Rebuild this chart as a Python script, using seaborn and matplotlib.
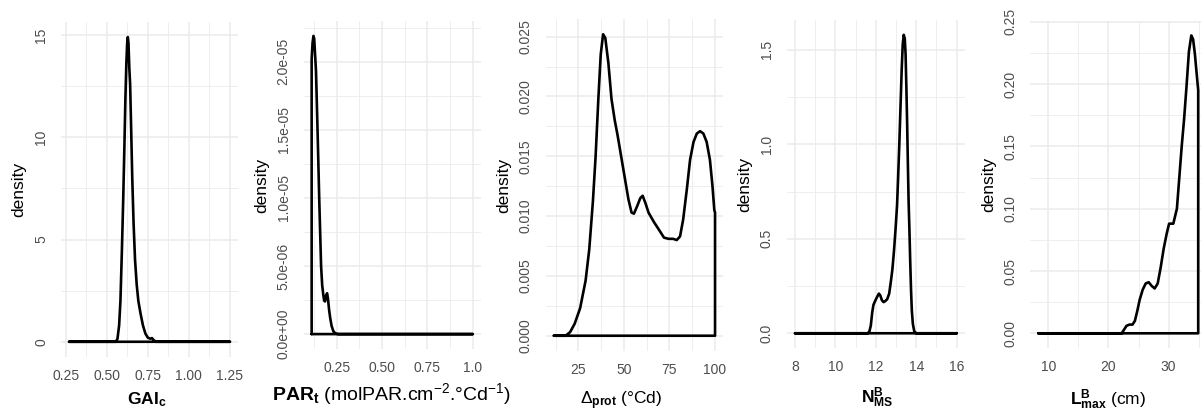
import matplotlib
matplotlib.use("Agg")
import matplotlib.pyplot as plt
import seaborn as sns
import numpy as np

# ---- density curves (x, estimated density) ----
gai_x = [0.27, 0.555, 0.565, 0.575, 0.583, 0.592, 0.600, 0.607, 0.613, 0.619, 0.624,
         0.628, 0.632, 0.637, 0.642, 0.648, 0.655, 0.663, 0.672, 0.682, 0.692, 0.705,
         0.720, 0.735, 0.750, 0.765, 0.775, 0.785, 0.800, 1.25]
gai_density = [0, 0, 0.15, 0.8, 2.0, 4.5, 7.0, 9.5, 11.8, 13.6, 14.6,
               14.9, 14.6, 13.4, 12.6, 10.5, 8.0, 5.8, 4.0, 2.8, 2.0, 1.4,
               0.8, 0.4, 0.2, 0.15, 0.18, 0.08, 0, 0]

par_x = [0.112, 0.117, 0.122, 0.126, 0.131, 0.136, 0.145, 0.154, 0.164, 0.170, 0.176,
         0.181, 0.186, 0.191, 0.197, 0.202, 0.208, 0.214, 0.222, 0.232, 0.245, 0.26, 1.0]
par_density = [2.02e-5, 2.14e-5, 2.19e-5, 2.17e-5, 2.05e-5, 1.93e-5, 1.47e-5, 0.98e-5,
               0.50e-5, 0.36e-5, 0.29e-5, 0.245e-5, 0.24e-5, 0.28e-5, 0.30e-5, 0.26e-5,
               0.18e-5, 0.12e-5, 0.06e-5, 0.02e-5, 0.003e-5, 0, 0]

dprot_x = [11.6, 18, 20.5, 23, 26, 29, 31, 33, 34.5, 36, 37.3, 38.6, 39.8, 41.5, 43.2,
           45.0, 46.5, 48.5, 50.5, 52.5, 54.2, 55.5, 57.2, 59.0, 60.3, 61.8, 63.5, 66.5,
           69.5, 72, 74.5, 77, 79, 80.8, 82.5, 84.5, 86.3, 88.2, 90, 91.8, 93.6, 95.4,
           97.2, 98.6, 99.6, 100]
dprot_density = [0, 0, 0.0003, 0.001, 0.0023, 0.0046, 0.0072, 0.0112, 0.0150, 0.0198,
                 0.0235, 0.0252, 0.0249, 0.0228, 0.0198, 0.0180, 0.0168, 0.0150, 0.0132,
                 0.0114, 0.0103, 0.0102, 0.0108, 0.0115, 0.0117, 0.0111, 0.0103, 0.0095,
                 0.0088, 0.0082, 0.0081, 0.0081, 0.0080, 0.0083, 0.0097, 0.0122, 0.0147,
                 0.0162, 0.0169, 0.0171, 0.0169, 0.0162, 0.0147, 0.0125, 0.0105, 0.0103]

nms_x = [8.0, 11.6, 11.68, 11.75, 11.82, 11.88, 11.96, 12.05, 12.15, 12.22, 12.30, 12.38,
         12.46, 12.56, 12.66, 12.75, 12.82, 12.90, 12.98, 13.05, 13.10, 13.16, 13.22,
         13.28, 13.33, 13.38, 13.43, 13.47, 13.51, 13.55, 13.58, 13.62, 13.66, 13.70,
         13.74, 13.78, 13.83, 13.90, 14.0, 16.0]
nms_density = [0, 0, 0.01, 0.04, 0.11, 0.15, 0.17, 0.19, 0.21, 0.20, 0.175, 0.165,
               0.17, 0.18, 0.21, 0.28, 0.34, 0.44, 0.56, 0.68, 0.82, 1.0, 1.2,
               1.4, 1.53, 1.58, 1.56, 1.48, 1.3, 1.1, 0.92, 0.7, 0.55, 0.38,
               0.23, 0.12, 0.05, 0.01, 0, 0]

lmax_x = [8.3, 22.2, 22.6, 23.0, 23.5, 24.0, 24.4, 24.8, 25.2, 25.7, 26.2, 26.7, 27.2,
          27.7, 28.2, 28.7, 29.2, 29.7, 30.1, 30.5, 30.8, 31.1, 31.4, 31.8, 32.2, 32.6,
          33.0, 33.4, 33.8, 34.1, 34.4, 34.7, 34.95]
lmax_density = [0, 0, 0.003, 0.006, 0.007, 0.007, 0.010, 0.018, 0.027, 0.035, 0.040,
                0.041, 0.038, 0.036, 0.040, 0.053, 0.068, 0.080, 0.088, 0.088, 0.088,
                0.094, 0.100, 0.125, 0.150, 0.172, 0.198, 0.226, 0.239, 0.236, 0.224,
                0.208, 0.195]

# ---- axis breaks and labels ----
gai_xticks = [0.25, 0.50, 0.75, 1.00, 1.25]
gai_xlabels = ["0.25", "0.50", "0.75", "1.00", "1.25"]
gai_yticks = [0, 5, 10, 15]
gai_ylabels = ["0", "5", "10", "15"]

par_xticks = [0.25, 0.50, 0.75, 1.0]
par_xlabels = ["0.25", "0.50", "0.75", "1.0"]
par_yticks = [0, 5e-6, 1e-5, 1.5e-5, 2e-5]
par_ylabels = ["0.0e+00", "5.0e-06", "1.0e-05", "1.5e-05", "2.0e-05"]

dprot_xticks = [25, 50, 75, 100]
dprot_xlabels = ["25", "50", "75", "100"]
dprot_yticks = [0, 0.005, 0.010, 0.015, 0.020, 0.025]
dprot_ylabels = ["0.000", "0.005", "0.010", "0.015", "0.020", "0.025"]

nms_xticks = [8, 10, 12, 14, 16]
nms_xlabels = ["8", "10", "12", "14", "16"]
nms_yticks = [0, 0.5, 1.0, 1.5]
nms_ylabels = ["0.0", "0.5", "1.0", "1.5"]

lmax_xticks = [10, 20, 30, 40]
lmax_xlabels = ["10", "20", "30", "40"]
lmax_yticks = [0, 0.05, 0.10, 0.15, 0.20, 0.25]
lmax_ylabels = ["0.00", "0.05", "0.10", "0.15", "0.20", "0.25"]

titles = [
    r"$\mathbf{GAI}_{\mathbf{c}}$",
    r"$\mathbf{PAR}_{\mathbf{t}}$ (molPAR.cm$^{-2}$.°Cd$^{-1}$)",
    r"$\Delta_{\mathbf{prot}}$ (°Cd)",
    r"$\mathbf{N}_{\mathbf{MS}}^{\mathbf{B}}$",
    r"$\mathbf{L}_{\mathbf{max}}^{\mathbf{B}}$ (cm)",
]

sns.set_theme(style="white")
plt.rcParams["font.family"] = ["Liberation Sans", "DejaVu Sans"]
plt.rcParams["mathtext.fontset"] = "custom"
plt.rcParams["mathtext.rm"] = "Liberation Sans"
plt.rcParams["mathtext.bf"] = "Liberation Sans:bold"
plt.rcParams["mathtext.it"] = "Liberation Sans:italic"
plt.rcParams["mathtext.default"] = "regular"

W, H = 1201, 416
fig = plt.figure(figsize=(W / 100, H / 100), dpi=100)
fig.patch.set_facecolor("white")

GRID = "#EBEBEB"
TICK_COL = "#4D4D4D"

panels = [
    (gai_x, gai_density, gai_xticks, gai_xlabels, gai_yticks, gai_ylabels),
    (par_x, par_density, par_xticks, par_xlabels, par_yticks, par_ylabels),
    (dprot_x, dprot_density, dprot_xticks, dprot_xlabels, dprot_yticks, dprot_ylabels),
    (nms_x, nms_density, nms_xticks, nms_xlabels, nms_yticks, nms_ylabels),
    (lmax_x, lmax_density, lmax_xticks, lmax_xlabels, lmax_yticks, lmax_ylabels),
]
# panel boxes in pixels: left, top, right, bottom
boxes = [
    (61.0, 21.8, 238.0, 357.0),
    (303.6, 21.0, 480.8, 349.0),
    (545.8, 19.2, 723.1, 350.8),
    (786.9, 19.9, 964.8, 348.2),
    (1030.3, 20.6, 1206.2, 348.2),
]
# x-title anchor (centre x, baseline y) in pixels, and size in points
title_pos = [(147, 404, 12.5), (392, 400, 14.0), (621, 404, 12.5),
             (877, 403, 12.5), (1108, 405, 12.5)]


def minor_breaks(major, lo, hi):
    step = major[1] - major[0]
    ext = [major[0] - step] + list(major) + [major[-1] + step]
    mids = [(a + b) / 2 for a, b in zip(ext[:-1], ext[1:])]
    return [m for m in mids if lo <= m <= hi]


for (xv, dv, xt, xtl, yt, ytl), (l, t, r, b), title, (tx, ty, tsize) in zip(
        panels, boxes, titles, title_pos):
    ax = fig.add_axes([l / W, 1 - b / H, (r - l) / W, (b - t) / H])
    ax.set_facecolor("white")

    # closed outline of the density area
    px = [xv[0]] + list(xv) + [xv[-1], xv[0]]
    py = [0] + list(dv) + [0, 0]
    sns.lineplot(x=px, y=py, sort=False, estimator=None, color="black",
                 linewidth=1.9, ax=ax, solid_joinstyle="round",
                 solid_capstyle="round")

    x0, x1 = min(xv), max(xv)
    xpad = 0.05 * (x1 - x0)
    ymax = max(dv)
    xlim = (x0 - xpad, x1 + xpad)
    ylim = (-0.05 * ymax, 1.05 * ymax)

    ax.set_xticks(xt)
    ax.set_xticklabels(xtl)
    ax.set_yticks(yt)
    ax.set_yticklabels(ytl)
    ax.set_xticks(minor_breaks(xt, *xlim), minor=True)
    ax.set_yticks(minor_breaks(yt, *ylim), minor=True)
    ax.set_xlim(*xlim)
    ax.set_ylim(*ylim)

    ax.grid(which="major", color=GRID, linewidth=1.15)
    ax.grid(which="minor", color=GRID, linewidth=0.6)
    ax.set_axisbelow(True)
    for s in ax.spines.values():
        s.set_visible(False)

    ax.tick_params(which="both", length=0)
    ax.tick_params(axis="x", pad=13.7, labelsize=10, labelcolor=TICK_COL)
    ax.tick_params(axis="y", pad=14.4, labelsize=10, labelcolor=TICK_COL)
    plt.setp(ax.get_xticklabels(), va="center")
    plt.setp(ax.get_yticklabels(), rotation=90, ha="center", va="center")

    ax.set_xlabel("")
    ax.set_ylabel("density", fontsize=12.5, color="black", va="center")
    ax.yaxis.set_label_coords(-42.0 / (r - l), 0.5)

    fig.text(tx / W, 1 - ty / H, title, ha="center", va="baseline",
             fontsize=tsize, color="black")

fig.savefig("out.png", dpi=100, facecolor="white")
